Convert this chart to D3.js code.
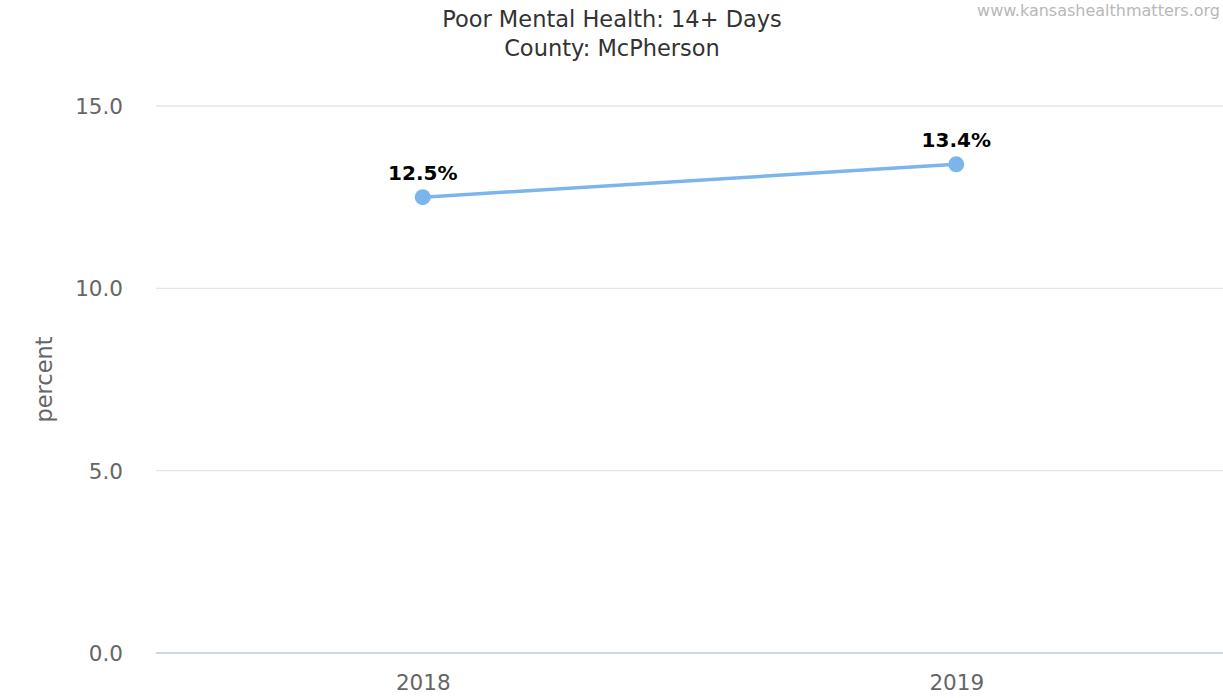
<!DOCTYPE html>
<html><head><meta charset="utf-8">
<script src="https://cdn.jsdelivr.net/npm/d3@7"></script>
<style>body{margin:0;background:#fff;}svg{display:block;font-family:"DejaVu Sans",sans-serif;}</style>
</head><body>
<svg id="c" width="1223" height="698"></svg>
<script>
const categories = ["2018","2019"];
const values = [12.5, 13.4];
const labels = ["12.5%","13.4%"];
const yTicks = [0,5,10,15];
const titleLines = ["Poor Mental Health: 14+ Days","County: McPherson"];

const W=1223,H=698, m={l:156,r:0,t:106,b:45};
const svg=d3.select("#c");
const x=d3.scalePoint().domain(categories).range([m.l,W-m.r]).padding(0.5);
const y=d3.scaleLinear().domain([0,15]).range([H-m.b,m.t]);

// grid
svg.append("g").selectAll("line").data(yTicks).join("line")
 .attr("x1",m.l).attr("x2",W).attr("y1",d=>y(d)).attr("y2",d=>y(d))
 .attr("stroke",d=>d===0?"#ccd6eb":"#e6e6e6").attr("stroke-width",d=>d===0?2:1.3);

const yAxis=svg.append("g").attr("transform",`translate(${m.l},0)`)
 .call(d3.axisLeft(y).tickValues(yTicks).tickFormat(d3.format(".1f")).tickSize(0).tickPadding(33));
yAxis.select(".domain").remove();
yAxis.selectAll("text").attr("font-size",21.5).attr("fill","#666").attr("font-family","DejaVu Sans").attr("dy","0.35em");

const xAxis=svg.append("g").attr("transform",`translate(0,${H-m.b})`)
 .call(d3.axisBottom(x).tickSize(0).tickPadding(22));
xAxis.select(".domain").remove();
xAxis.selectAll("text").attr("font-size",21.5).attr("fill","#666").attr("font-family","DejaVu Sans");

svg.append("text").attr("transform",`translate(52,${(y(0)+y(15))/2}) rotate(-90)`)
 .attr("text-anchor","middle").attr("font-size",22.5).attr("fill","#666").text("percent");

svg.append("g").selectAll("text").data(titleLines).join("text")
 .attr("x",612).attr("y",(d,i)=>27+i*29).attr("text-anchor","middle")
 .attr("font-size",22.5).attr("fill","#333").text(d=>d);

svg.append("text").attr("x",1220).attr("y",16).attr("text-anchor","end")
 .attr("font-size",16).attr("fill","#b8b8b8").text("www.kansashealthmatters.org");

const line=d3.line().x((d,i)=>x(categories[i])).y(d=>y(d));
svg.append("path").datum(values).attr("d",line).attr("fill","none")
 .attr("stroke","#7cb5ec").attr("stroke-width",3.5);
svg.append("g").selectAll("circle").data(values).join("circle")
 .attr("cx",(d,i)=>x(categories[i])).attr("cy",d=>y(d)).attr("r",8).attr("fill","#7cb5ec");

svg.append("g").selectAll("text").data(values).join("text")
 .attr("x",(d,i)=>x(categories[i])).attr("y",d=>y(d)-17).attr("text-anchor","middle")
 .attr("font-size",20).attr("font-weight","bold").attr("fill","#000")
 .attr("stroke","#fff").attr("stroke-width",3).attr("paint-order","stroke")
 .text((d,i)=>labels[i]);
</script>
</body></html>
